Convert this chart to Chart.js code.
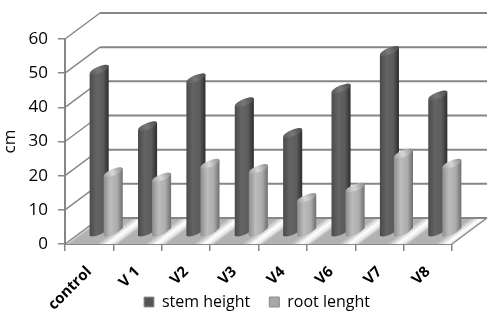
<!DOCTYPE html>
<html>
<head>
<meta charset="utf-8">
<style>
html, body { margin: 0; padding: 0; background: #fff; }
#wrap { width: 500px; height: 315px; }
</style>
</head>
<body>
<div id="wrap"><canvas id="chart" width="500" height="315"></canvas></div>
<script src="https://cdn.jsdelivr.net/npm/chart.js@4/dist/chart.umd.min.js"></script>
<script>
var categories = ['control', 'V 1', 'V2', 'V3', 'V4', 'V6', 'V7', 'V8'];
var stemHeight = [47.5, 31, 45, 38, 29, 42, 53, 40];
var rootLenght = [17.5, 16, 20, 18.5, 10, 13, 23, 20];

var depthX = 35;
var depthY = 26;
var barShift = 17;
var gray = '#868686';

// colours across a bar, left to right
var stemShade = ['#4a4a4a', '#646464', '#5c5c5c', '#2c2c2c'];
var rootShade = ['#8c8c8c', '#bcbcbc', '#adadad', '#6e6e6e'];
var stemCap = ['#5a5a5a', '#787878', '#4a4a4a'];
var rootCap = ['#9c9c9c', '#d8d8d8', '#8a8a8a'];

function drawWalls(chart) {
    var ctx = chart.ctx;
    var area = chart.chartArea;
    var y = chart.scales.y;
    var x = chart.scales.x;
    var step = x.width / categories.length;

    // floor, gray with a soft white stripe after each pair of bars
    ctx.save();
    ctx.beginPath();
    ctx.moveTo(area.left, area.bottom);
    ctx.lineTo(area.right, area.bottom);
    ctx.lineTo(area.right + depthX, area.bottom - depthY);
    ctx.lineTo(area.left + depthX, area.bottom - depthY);
    ctx.closePath();
    ctx.fillStyle = '#fff';
    ctx.fill();
    ctx.clip();
    for (var i = 0; i < categories.length; i++) {
        var left = x.getPixelForValue(i) - step / 2;
        ctx.save();
        ctx.transform(1, 0, -depthX / depthY, 1, depthX / depthY * area.bottom, 0);
        var g = ctx.createLinearGradient(left, 0, left + step, 0);
        g.addColorStop(0, '#e8e8e8');
        g.addColorStop(0.1, '#b2b2b2');
        g.addColorStop(0.66, '#b2b2b2');
        g.addColorStop(0.88, '#ffffff');
        g.addColorStop(1, '#e8e8e8');
        ctx.fillStyle = g;
        ctx.fillRect(left, area.bottom - depthY, step + 1, depthY);
        ctx.restore();
    }
    ctx.restore();

    // diagonal side lines and back grid lines
    ctx.strokeStyle = gray;
    y.ticks.forEach(function (t) {
        var py = y.getPixelForValue(t.value);
        ctx.lineWidth = 1.4;
        ctx.beginPath();
        ctx.moveTo(area.left, py);
        ctx.lineTo(area.left + depthX, py - depthY);
        ctx.stroke();
        ctx.lineWidth = 2;
        ctx.beginPath();
        ctx.moveTo(area.left + depthX, py - depthY);
        ctx.lineTo(area.right + depthX, py - depthY);
        ctx.stroke();
    });
    ctx.lineWidth = 1.4;
    ctx.beginPath();
    ctx.moveTo(area.right, area.bottom);
    ctx.lineTo(area.right + depthX, area.bottom - depthY);
    ctx.stroke();
}

function drawBar(ctx, bar, shade, cap) {
    var cx = bar.x + barShift;
    var w = bar.width / 2;
    var tilt = 4;
    var g = ctx.createLinearGradient(cx - w, 0, cx + w, 0);
    g.addColorStop(0, shade[0]);
    g.addColorStop(0.35, shade[1]);
    g.addColorStop(0.7, shade[2]);
    g.addColorStop(1, shade[3]);

    // body, with a slanted elliptical foot
    ctx.beginPath();
    ctx.moveTo(cx - w, bar.y + tilt);
    ctx.lineTo(cx - w, bar.base + tilt);
    ctx.quadraticCurveTo(cx, bar.base + tilt + 2, cx + w, bar.base - tilt);
    ctx.lineTo(cx + w, bar.y - tilt);
    ctx.closePath();
    ctx.fillStyle = g;
    ctx.fill();

    // slanted top
    var c = ctx.createLinearGradient(cx - w, bar.y + tilt, cx + w, bar.y - tilt);
    c.addColorStop(0, cap[0]);
    c.addColorStop(0.45, cap[1]);
    c.addColorStop(1, cap[2]);
    ctx.beginPath();
    ctx.ellipse(cx, bar.y, w * 1.07, 3.2, -Math.atan2(tilt * 2, w * 2), 0, Math.PI * 2);
    ctx.fillStyle = c;
    ctx.fill();
}

var pseudo3d = {
    id: 'pseudo3d',
    afterLayout: function (chart) {
        // tick labels run down beside the legend, so let them use the full height
        chart.scales.x.bottom = chart.height;
        chart.legend.top = 275;
        chart.legend.bottom = 315;
        chart.legend.left += 31;
        chart.legend.right += 31;
    },
    beforeDatasetsDraw: function (chart) {
        drawWalls(chart);
        var stem = chart.getDatasetMeta(0).data;
        var root = chart.getDatasetMeta(1).data;
        stem.forEach(function (bar) { drawBar(chart.ctx, bar, stemShade, stemCap); });
        root.forEach(function (bar) { drawBar(chart.ctx, bar, rootShade, rootCap); });
        return false;
    }
};

new Chart(document.getElementById('chart'), {
    type: 'bar',
    data: {
        labels: categories,
        datasets: [{
            label: 'stem height',
            data: stemHeight,
            yAxisID: 'yDepth',
            backgroundColor: '#555555',
            borderColor: '#9a9a9a',
            borderWidth: 1,
            categoryPercentage: 0.58,
            barPercentage: 1.36
        }, {
            label: 'root lenght',
            data: rootLenght,
            yAxisID: 'yDepth',
            backgroundColor: '#a8a8a8',
            borderColor: '#8a8a8a',
            borderWidth: 1,
            categoryPercentage: 0.58,
            barPercentage: 1.36
        }]
    },
    plugins: [pseudo3d],
    options: {
        responsive: false,
        animation: false,
        layout: { padding: { top: 39, right: 48, left: 0, bottom: 0 } },
        plugins: {
            tooltip: { enabled: false },
            legend: {
                position: 'bottom',
                labels: {
                    boxWidth: 10,
                    boxHeight: 10,
                    padding: 19,
                    color: '#000',
                    font: { family: 'Open Sans', size: 16 }
                }
            }
        },
        scales: {
            x: {
                offset: true,
                grid: { offset: true, drawOnChartArea: false, color: gray, tickLength: 7, lineWidth: 1.5 },
                border: { color: gray, width: 2 },
                ticks: {
                    color: '#000',
                    minRotation: 45,
                    maxRotation: 45,
                    padding: 12,
                    font: { family: 'Open Sans', size: 15, weight: 'bold' }
                },
                afterFit: function (scale) { scale.height = 26; }
            },
            y: {
                min: 0,
                max: 60,
                grid: { drawOnChartArea: false, color: gray, tickLength: 7, lineWidth: 1.5 },
                border: { color: gray, width: 2 },
                ticks: {
                    stepSize: 10,
                    color: '#000',
                    padding: 10,
                    font: { family: 'Open Sans', size: 17 }
                },
                title: {
                    display: true,
                    text: 'cm',
                    color: '#000',
                    padding: 0,
                    font: { family: 'Open Sans', size: 17 }
                },
                afterFit: function (scale) { scale.width = 65; }
            },
            // same range as y, moved back to where the bars stand on the floor
            yDepth: {
                display: false,
                min: -3.5,
                max: 56.5
            }
        }
    }
});
</script>
</body>
</html>
